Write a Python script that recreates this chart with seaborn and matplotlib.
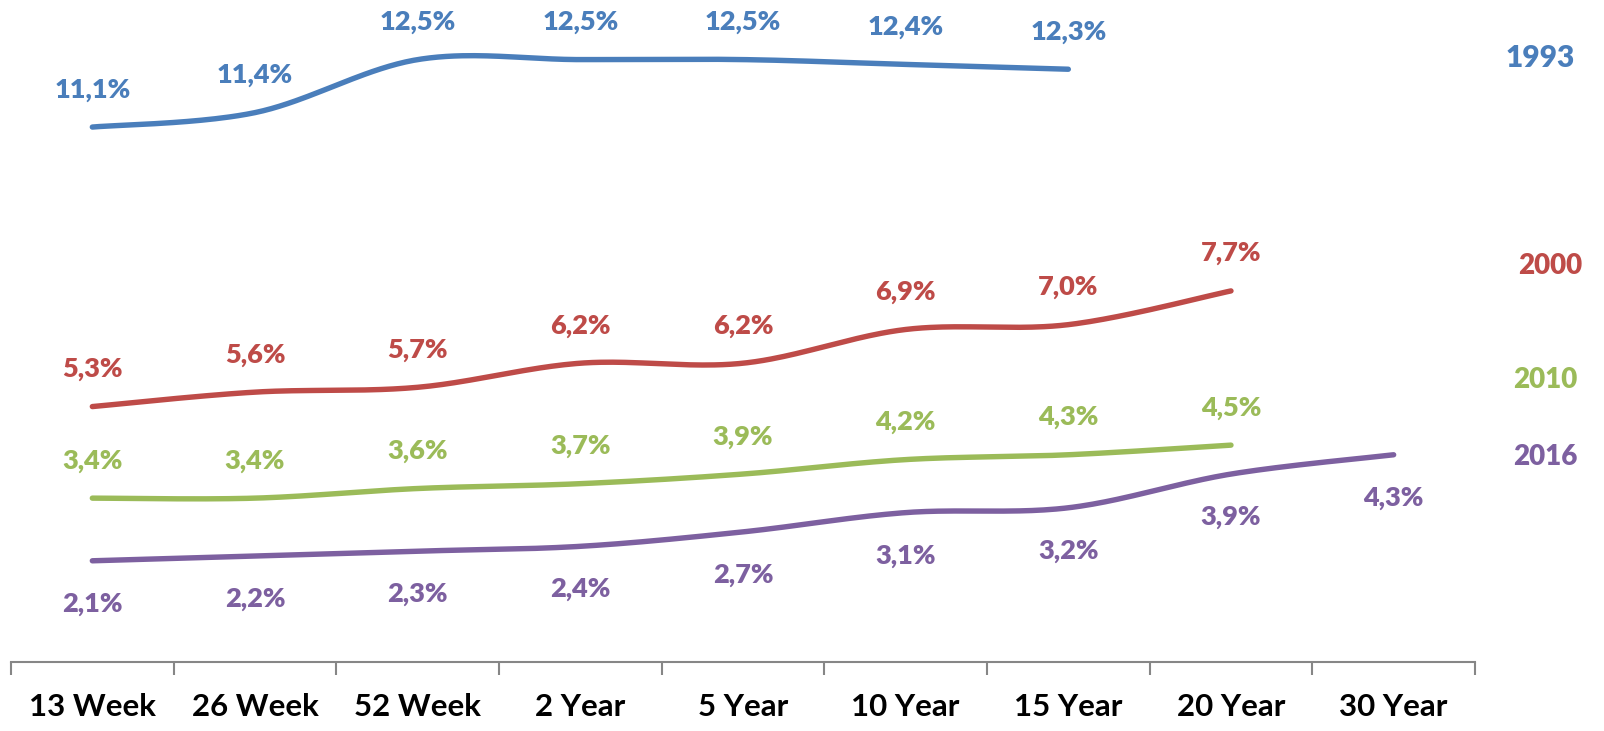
import numpy as np
import pandas as pd
import matplotlib
matplotlib.use("Agg")
import matplotlib.pyplot as plt
from matplotlib.ticker import FixedLocator, NullFormatter
import seaborn as sns

# Treasury yields by maturity (%), one curve per year
maturities = ["13 Week", "26 Week", "52 Week", "2 Year", "5 Year",
              "10 Year", "15 Year", "20 Year", "30 Year"]
years = ["1993", "2000", "2010", "2016"]
yield_1993 = [11.1, 11.4, 12.5, 12.5, 12.5, 12.4, 12.3]
yield_2000 = [5.3, 5.6, 5.7, 6.2, 6.2, 6.9, 7.0, 7.7]
yield_2010 = [3.4, 3.4, 3.6, 3.7, 3.9, 4.2, 4.3, 4.5]
yield_2016 = [2.1, 2.2, 2.3, 2.4, 2.7, 3.1, 3.2, 3.9, 4.3]

series = dict(zip(years, [yield_1993, yield_2000, yield_2010, yield_2016]))
colors = {"1993": "#4A7EBB", "2000": "#BE4B48", "2010": "#9BBB59", "2016": "#7D60A0"}
label_below = {"1993": False, "2000": False, "2010": False, "2016": True}


def smooth(xs, ys, steps=40):
    """Cubic Bezier smoothing through every point (Catmull-Rom style, tension 1/6)."""
    pts = np.column_stack([xs, ys]).astype(float)
    n = len(pts)
    out = [pts[0]]
    for i in range(n - 1):
        p0 = pts[max(i - 1, 0)]
        p1 = pts[i]
        p2 = pts[i + 1]
        p3 = pts[min(i + 2, n - 1)]
        c1 = p1 + (p2 - p0) / 6.0
        c2 = p2 - (p3 - p1) / 6.0
        t = np.linspace(0, 1, steps + 1)[1:, None]
        seg = ((1 - t) ** 3) * p1 + 3 * ((1 - t) ** 2) * t * c1 \
            + 3 * (1 - t) * t ** 2 * c2 + t ** 3 * p2
        out.extend(seg)
    out = np.array(out)
    return out[:, 0], out[:, 1]


frames = []
for yr, vals in series.items():
    xs = np.arange(len(vals)) + 0.5
    sx, sy = smooth(xs, vals)
    frames.append(pd.DataFrame({"pos": sx, "rate": sy, "year": yr,
                                "order": np.arange(len(sx))}))
curves = pd.concat(frames, ignore_index=True)

sns.set_theme(style="white")
plt.rcParams["font.family"] = ["Lato", "DejaVu Sans"]

fig = plt.figure(figsize=(16.04, 7.31), dpi=100)
ax = fig.add_axes([0.00686, 0.0944, 0.9127, 0.890])

sns.lineplot(data=curves, x="pos", y="rate", hue="year", palette=colors,
             units="year", estimator=None, sort=False, linewidth=3.9,
             legend=False, ax=ax, solid_capstyle="round")

for yr, vals in series.items():
    for i, v in enumerate(vals):
        dy = -31 if label_below[yr] else 27
        ax.annotate(f"{v:.1f}%".replace(".", ","), (i + 0.5, v),
                    xytext=(0, dy), textcoords="offset points",
                    ha="center", va="center", fontsize=19.5, fontweight="heavy",
                    color=colors[yr])

# series names at the right edge
name_pos = {"1993": (1540, 58, 21.5), "2000": (1550, 266, 20),
            "2010": (1545, 380, 20), "2016": (1545, 457, 20)}
for yr, (px, py, fs) in name_pos.items():
    fig.text(px / 1604, 1 - py / 731, yr, ha="center", va="center",
             fontsize=fs, fontweight="heavy", color=colors[yr])

ax.set_xlim(0, len(maturities))
ax.set_ylim(0, 13.5)
ax.set_xlabel("")
ax.set_ylabel("")
ax.set_yticks([])
ax.xaxis.set_major_locator(FixedLocator(np.arange(len(maturities) + 1)))
ax.xaxis.set_major_formatter(NullFormatter())
ax.xaxis.set_minor_locator(FixedLocator(np.arange(len(maturities)) + 0.5))
ax.set_xticklabels(maturities, minor=True)
ax.tick_params(axis="x", which="major", direction="out", length=9, width=1.5,
               color="#868686", bottom=True)
ax.tick_params(axis="x", which="minor", length=0, pad=22, labelsize=22.5,
               labelcolor="black")
for lab in ax.get_xticklabels(minor=True):
    lab.set_fontweight("bold")

for side in ["top", "left", "right"]:
    ax.spines[side].set_visible(False)
ax.spines["bottom"].set_color("#868686")
ax.spines["bottom"].set_linewidth(1.5)
ax.set_facecolor("white")
fig.patch.set_facecolor("white")

fig.savefig("out.png", dpi=100, facecolor="white")
